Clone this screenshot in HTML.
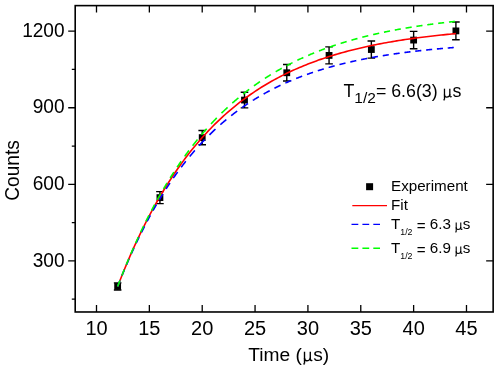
<!DOCTYPE html>
<html><head><meta charset="utf-8"><title>chart</title>
<style>html,body{margin:0;padding:0;background:#fff;}body{width:498px;height:365px;overflow:hidden;}svg{display:block;will-change:transform;}text{font-family:"Liberation Sans",sans-serif;fill:#000;}</style></head><body>
<svg width="498" height="365" viewBox="0 0 498 365">
<rect x="0" y="0" width="498" height="365" fill="#fff"/>
<rect x="75.20" y="5.62" width="417.95" height="306.36" fill="none" stroke="#000" stroke-width="1.6"/>
<path d="M96.50,311.98v-7 M96.50,5.62v7 M149.35,311.98v-7 M149.35,5.62v7 M202.21,311.98v-7 M202.21,5.62v7 M255.06,311.98v-7 M255.06,5.62v7 M307.92,311.98v-7 M307.92,5.62v7 M360.77,311.98v-7 M360.77,5.62v7 M413.63,311.98v-7 M413.63,5.62v7 M466.49,311.98v-7 M466.49,5.62v7 M75.20,260.92h-7 M493.15,260.92h-7 M75.20,184.33h-7 M493.15,184.33h-7 M75.20,107.74h-7 M493.15,107.74h-7 M75.20,31.15h-7 M493.15,31.15h-7 M75.20,299.22h-3.4 M75.20,222.63h-3.4 M75.20,146.03h-3.4 M75.20,69.44h-3.4" stroke="#000" stroke-width="1.3" fill="none"/>
<text transform="translate(64.6,266.52) scale(0.955,1)" font-size="20" text-anchor="end">300</text>
<text transform="translate(64.6,189.93) scale(0.955,1)" font-size="20" text-anchor="end">600</text>
<text transform="translate(64.6,113.34) scale(0.955,1)" font-size="20" text-anchor="end">900</text>
<text transform="translate(64.6,36.75) scale(0.955,1)" font-size="20" text-anchor="end">1200</text>
<text transform="translate(96.50,334.7) scale(1.0,1)" font-size="20" text-anchor="middle">10</text>
<text transform="translate(149.35,334.7) scale(1.0,1)" font-size="20" text-anchor="middle">15</text>
<text transform="translate(202.21,334.7) scale(1.0,1)" font-size="20" text-anchor="middle">20</text>
<text transform="translate(255.06,334.7) scale(1.0,1)" font-size="20" text-anchor="middle">25</text>
<text transform="translate(307.92,334.7) scale(1.0,1)" font-size="20" text-anchor="middle">30</text>
<text transform="translate(360.77,334.7) scale(1.0,1)" font-size="20" text-anchor="middle">35</text>
<text transform="translate(413.63,334.7) scale(1.0,1)" font-size="20" text-anchor="middle">40</text>
<text transform="translate(466.49,334.7) scale(1.0,1)" font-size="20" text-anchor="middle">45</text>
<text x="248.20" y="360.60" font-size="19.2">Time (</text>
<g transform="translate(302.59,360.60) scale(0.01920)" fill="none" stroke="#000" stroke-width="72" stroke-linejoin="round"><path d="M100,-462V150"/><path d="M100,-140C100,-30 150,8 215,8C300,8 400,-50 400,-150"/><path d="M400,-462V-70C400,-5 440,15 505,-25"/><ellipse cx="78" cy="165" rx="42" ry="46" fill="#000" stroke="none"/></g>
<text x="313.15" y="360.60" font-size="19.2">s)</text>
<text transform="translate(19.3,170.5) rotate(-90) scale(1,1.03)" font-size="19.1" text-anchor="middle">Counts</text>
<path d="M117.64,282.84V290.06M113.84,282.84h7.6M113.84,290.06h7.6 M159.93,191.63V203.58M156.13,191.63h7.6M156.13,203.58h7.6 M202.21,130.47V144.75M198.41,130.47h7.6M198.41,144.75h7.6 M244.49,92.30V107.87M240.69,92.30h7.6M240.69,107.87h7.6 M286.78,64.54V80.99M282.98,64.54h7.6M282.98,80.99h7.6 M329.06,46.92V63.89M325.26,46.92h7.6M325.26,63.89h7.6 M371.35,40.96V58.11M367.55,40.96h7.6M367.55,58.11h7.6 M413.63,31.37V48.80M409.83,31.37h7.6M409.83,48.80h7.6 M455.91,22.05V39.74M452.11,22.05h7.6M452.11,39.74h7.6" stroke="#000" stroke-width="1.4" fill="none"/>
<rect x="114.24" y="283.05" width="6.8" height="6.8" fill="#000"/>
<rect x="156.53" y="194.21" width="6.8" height="6.8" fill="#000"/>
<rect x="198.81" y="134.21" width="6.8" height="6.8" fill="#000"/>
<rect x="241.09" y="96.68" width="6.8" height="6.8" fill="#000"/>
<rect x="283.38" y="69.36" width="6.8" height="6.8" fill="#000"/>
<rect x="325.66" y="52.00" width="6.8" height="6.8" fill="#000"/>
<rect x="367.95" y="46.13" width="6.8" height="6.8" fill="#000"/>
<rect x="410.23" y="36.69" width="6.8" height="6.8" fill="#000"/>
<rect x="452.51" y="27.49" width="6.8" height="6.8" fill="#000"/>
<path d="M117.64,286.45 L119.76,281.01 L121.87,275.67 L123.98,270.45 L126.10,265.34 L128.21,260.34 L130.33,255.43 L132.44,250.63 L134.56,245.93 L136.67,241.33 L138.78,236.83 L140.90,232.41 L143.01,228.09 L145.13,223.86 L147.24,219.72 L149.35,215.66 L151.47,211.69 L153.58,207.80 L155.70,203.99 L157.81,200.26 L159.93,196.60 L162.04,193.03 L164.15,189.52 L166.27,186.09 L168.38,182.73 L170.50,179.45 L172.61,176.23 L174.73,173.07 L176.84,169.98 L178.95,166.96 L181.07,164.00 L183.18,161.10 L185.30,158.26 L187.41,155.48 L189.52,152.76 L191.64,150.09 L193.75,147.48 L195.87,144.93 L197.98,142.42 L200.10,139.97 L202.21,137.57 L204.32,135.22 L206.44,132.92 L208.55,130.67 L210.67,128.46 L212.78,126.30 L214.90,124.19 L217.01,122.11 L219.12,120.09 L221.24,118.10 L223.35,116.15 L225.47,114.25 L227.58,112.38 L229.69,110.56 L231.81,108.77 L233.92,107.02 L236.04,105.30 L238.15,103.62 L240.27,101.98 L242.38,100.37 L244.49,98.79 L246.61,97.25 L248.72,95.74 L250.84,94.26 L252.95,92.81 L255.06,91.39 L257.18,90.00 L259.29,88.64 L261.41,87.30 L263.52,86.00 L265.64,84.72 L267.75,83.47 L269.86,82.24 L271.98,81.04 L274.09,79.87 L276.21,78.72 L278.32,77.59 L280.44,76.49 L282.55,75.41 L284.66,74.35 L286.78,73.31 L288.89,72.30 L291.01,71.31 L293.12,70.33 L295.23,69.38 L297.35,68.45 L299.46,67.53 L301.58,66.64 L303.69,65.76 L305.81,64.91 L307.92,64.07 L310.03,63.25 L312.15,62.44 L314.26,61.65 L316.38,60.88 L318.49,60.12 L320.61,59.38 L322.72,58.66 L324.83,57.95 L326.95,57.25 L329.06,56.57 L331.18,55.91 L333.29,55.25 L335.40,54.62 L337.52,53.99 L339.63,53.38 L341.75,52.78 L343.86,52.19 L345.98,51.61 L348.09,51.05 L350.20,50.50 L352.32,49.96 L354.43,49.43 L356.55,48.91 L358.66,48.41 L360.77,47.91 L362.89,47.42 L365.00,46.95 L367.12,46.48 L369.23,46.02 L371.35,45.58 L373.46,45.14 L375.57,44.71 L377.69,44.29 L379.80,43.88 L381.92,43.48 L384.03,43.08 L386.15,42.70 L388.26,42.32 L390.37,41.95 L392.49,41.59 L394.60,41.23 L396.72,40.88 L398.83,40.54 L400.94,40.21 L403.06,39.88 L405.17,39.56 L407.29,39.25 L409.40,38.94 L411.52,38.64 L413.63,38.35 L415.74,38.06 L417.86,37.78 L419.97,37.51 L422.09,37.24 L424.20,36.97 L426.32,36.71 L428.43,36.46 L430.54,36.21 L432.66,35.97 L434.77,35.73 L436.89,35.50 L439.00,35.27 L441.11,35.04 L443.23,34.83 L445.34,34.61 L447.46,34.40 L449.57,34.20 L451.69,33.99 L453.80,33.80 L455.91,33.60" stroke="#ff0000" stroke-width="1.6" fill="none"/>
<path d="M117.64,286.45 L117.81,286.02 L117.98,285.58 L118.15,285.15 L118.32,284.72 L118.49,284.29 L118.66,283.86 L118.83,283.43 L119.00,283.00 L119.16,282.58 L119.33,282.15 L119.50,281.73 L119.67,281.30 L119.84,280.88 L120.01,280.45 M122.04,275.43 L122.21,275.01 L122.38,274.60 L122.55,274.19 L122.72,273.78 L122.89,273.37 L123.05,272.96 L123.22,272.55 L123.39,272.14 L123.56,271.73 L123.73,271.32 L123.90,270.91 L124.07,270.51 L124.24,270.10 L124.41,269.70 M126.52,264.70 L126.69,264.31 L126.86,263.91 L127.03,263.52 L127.20,263.13 L127.37,262.73 L127.54,262.34 L127.71,261.95 L127.87,261.56 L128.04,261.17 L128.21,260.78 L128.38,260.39 L128.55,260.01 L128.72,259.62 L128.89,259.23 L129.06,258.85 M131.26,253.90 L131.43,253.52 L131.60,253.15 L131.76,252.77 L131.93,252.40 L132.10,252.02 L132.27,251.65 L132.44,251.28 L132.61,250.91 L132.78,250.54 L132.95,250.17 L133.12,249.80 L133.29,249.43 L133.46,249.06 L133.63,248.69 L133.79,248.33 L133.96,247.96 M136.25,243.08 L136.42,242.72 L136.59,242.36 L136.75,242.01 L136.92,241.65 L137.09,241.30 L137.26,240.95 L137.43,240.59 L137.60,240.24 L137.77,239.89 L137.94,239.54 L138.11,239.19 L138.28,238.84 L138.45,238.49 L138.61,238.14 L138.78,237.79 L138.95,237.44 L139.12,237.09 M141.49,232.30 L141.74,231.79 L142.00,231.29 L142.25,230.78 L142.50,230.28 L142.76,229.78 L143.01,229.28 L143.27,228.78 L143.52,228.28 L143.77,227.78 L144.03,227.29 L144.28,226.79 L144.53,226.30 M147.07,221.45 L147.33,220.97 L147.58,220.49 L147.83,220.02 L148.09,219.54 L148.34,219.07 L148.59,218.60 L148.85,218.13 L149.10,217.66 L149.35,217.19 L149.61,216.72 L149.86,216.26 L150.12,215.79 L150.29,215.48 M152.99,210.61 L153.25,210.16 L153.50,209.71 L153.75,209.27 L154.01,208.82 L154.26,208.38 L154.51,207.93 L154.77,207.49 L155.02,207.05 L155.27,206.61 L155.53,206.17 L155.78,205.73 L156.04,205.29 L156.29,204.86 L156.46,204.57 M159.33,199.72 L159.59,199.30 L159.84,198.88 L160.10,198.46 L160.35,198.04 L160.60,197.63 L160.86,197.21 L161.11,196.80 L161.36,196.38 L161.62,195.97 L161.87,195.56 L162.12,195.15 L162.38,194.74 L162.63,194.33 L162.89,193.93 L162.97,193.79 M166.10,188.86 L166.35,188.47 L166.61,188.08 L166.86,187.69 L167.11,187.30 L167.37,186.91 L167.62,186.53 L167.88,186.14 L168.13,185.76 L168.38,185.37 L168.64,184.99 L168.89,184.61 L169.14,184.22 L169.40,183.84 L169.65,183.47 L169.91,183.09 L169.99,182.96 M173.29,178.14 L173.63,177.65 L173.96,177.17 L174.30,176.69 L174.64,176.21 L174.98,175.73 L175.32,175.25 L175.66,174.78 L175.99,174.31 L176.33,173.83 L176.67,173.36 L177.01,172.90 L177.35,172.43 L177.60,172.08 M181.15,167.29 L181.49,166.84 L181.83,166.40 L182.17,165.95 L182.51,165.51 L182.84,165.07 L183.18,164.63 L183.52,164.19 L183.86,163.76 L184.20,163.32 L184.54,162.89 L184.87,162.46 L185.21,162.03 L185.55,161.60 L185.80,161.28 M189.69,156.47 L190.12,155.96 L190.54,155.45 L190.96,154.94 L191.39,154.44 L191.81,153.94 L192.23,153.44 L192.65,152.94 L193.08,152.44 L193.50,151.95 L193.92,151.46 L194.35,150.97 L194.77,150.48 L194.85,150.39 M199.08,145.64 L199.50,145.17 L199.93,144.71 L200.35,144.25 L200.77,143.79 L201.20,143.34 L201.62,142.89 L202.04,142.43 L202.46,141.98 L202.89,141.54 L203.31,141.09 L203.73,140.65 L204.16,140.21 L204.58,139.77 L204.75,139.59 M209.48,134.81 L209.99,134.31 L210.50,133.81 L211.01,133.32 L211.51,132.83 L212.02,132.34 L212.53,131.85 L213.03,131.37 L213.54,130.89 L214.05,130.41 L214.56,129.93 L215.06,129.46 L215.49,129.07 M220.31,124.71 L220.81,124.27 L221.32,123.82 L221.83,123.38 L222.34,122.94 L222.84,122.51 L223.35,122.07 L223.86,121.64 L224.37,121.21 L224.87,120.79 L225.38,120.36 L225.89,119.94 L226.40,119.52 M231.13,115.70 L231.64,115.30 L232.15,114.90 L232.65,114.51 L233.16,114.12 L233.67,113.73 L234.18,113.34 L234.68,112.95 L235.19,112.57 L235.70,112.19 L236.21,111.81 L236.71,111.43 L237.22,111.05 M241.96,107.64 L242.46,107.28 L242.97,106.93 L243.48,106.58 L243.99,106.23 L244.49,105.88 L245.00,105.53 L245.51,105.19 L246.02,104.85 L246.52,104.50 L247.03,104.17 L247.54,103.83 L248.05,103.49 M252.78,100.44 L253.29,100.12 L253.80,99.81 L254.30,99.49 L254.81,99.18 L255.32,98.87 L255.83,98.56 L256.33,98.25 L256.84,97.95 L257.35,97.64 L257.86,97.34 L258.36,97.04 L258.87,96.74 M263.61,94.01 L264.11,93.73 L264.62,93.44 L265.13,93.16 L265.64,92.88 L266.14,92.61 L266.65,92.33 L267.16,92.05 L267.67,91.78 L268.17,91.51 L268.68,91.24 L269.19,90.97 L269.70,90.70 M274.43,88.27 L274.94,88.01 L275.45,87.76 L275.95,87.51 L276.46,87.26 L276.97,87.01 L277.48,86.76 L277.98,86.52 L278.49,86.27 L279.00,86.03 L279.51,85.79 L280.01,85.55 L280.52,85.31 M285.34,83.09 L285.85,82.87 L286.36,82.64 L286.86,82.42 L287.37,82.20 L287.88,81.97 L288.38,81.75 L288.89,81.53 L289.40,81.31 L289.91,81.10 L290.41,80.88 L290.92,80.67 L291.34,80.49 M296.17,78.51 L296.67,78.31 L297.18,78.11 L297.69,77.91 L298.19,77.71 L298.70,77.51 L299.21,77.31 L299.72,77.12 L300.22,76.92 L300.73,76.73 L301.24,76.53 L301.75,76.34 L302.17,76.18 M306.99,74.42 L307.50,74.24 L308.00,74.06 L308.51,73.88 L309.02,73.70 L309.53,73.52 L310.03,73.35 L310.54,73.17 L311.05,73.00 L311.56,72.82 L312.06,72.65 L312.57,72.48 L312.99,72.34 M317.81,70.76 L318.32,70.60 L318.83,70.44 L319.34,70.28 L319.84,70.12 L320.35,69.96 L320.86,69.80 L321.37,69.65 L321.87,69.49 L322.38,69.34 L322.89,69.18 L323.40,69.03 L323.82,68.90 M328.64,67.49 L329.15,67.35 L329.65,67.20 L330.16,67.06 L330.67,66.92 L331.18,66.78 L331.68,66.64 L332.19,66.50 L332.70,66.36 L333.21,66.22 L333.71,66.08 L334.22,65.94 L334.64,65.83 M339.46,64.57 L339.97,64.44 L340.48,64.31 L340.99,64.19 L341.49,64.06 L342.00,63.93 L342.51,63.81 L343.02,63.68 L343.52,63.56 L344.03,63.43 L344.54,63.31 L345.05,63.19 L345.47,63.09 M350.29,61.96 L350.80,61.85 L351.30,61.73 L351.81,61.62 L352.32,61.50 L352.83,61.39 L353.33,61.28 L353.84,61.17 L354.35,61.06 L354.86,60.95 L355.36,60.84 L355.87,60.73 L356.29,60.64 M361.11,59.63 L361.62,59.53 L362.13,59.43 L362.64,59.32 L363.14,59.22 L363.65,59.12 L364.16,59.02 L364.67,58.92 L365.17,58.82 L365.68,58.72 L366.19,58.63 L366.69,58.53 L367.12,58.45 M371.94,57.55 L372.45,57.46 L372.95,57.37 L373.46,57.27 L373.97,57.18 L374.48,57.09 L374.98,57.00 L375.49,56.91 L376.00,56.83 L376.50,56.74 L377.01,56.65 L377.52,56.56 L377.94,56.49 M382.76,55.69 L383.27,55.61 L383.78,55.52 L384.28,55.44 L384.79,55.36 L385.30,55.28 L385.81,55.20 L386.31,55.12 L386.82,55.04 L387.33,54.96 L387.84,54.89 L388.34,54.81 L388.77,54.74 M393.59,54.03 L394.09,53.95 L394.60,53.88 L395.11,53.81 L395.62,53.73 L396.12,53.66 L396.63,53.59 L397.14,53.52 L397.65,53.45 L398.15,53.38 L398.66,53.31 L399.17,53.24 L399.68,53.17 M404.41,52.54 L404.92,52.47 L405.43,52.41 L405.93,52.34 L406.44,52.28 L406.95,52.22 L407.46,52.15 L407.96,52.09 L408.47,52.02 L408.98,51.96 L409.49,51.90 L409.99,51.84 L410.50,51.78 M415.24,51.21 L415.74,51.15 L416.25,51.10 L416.76,51.04 L417.27,50.98 L417.77,50.92 L418.28,50.87 L418.79,50.81 L419.30,50.75 L419.80,50.70 L420.31,50.64 L420.82,50.59 L421.33,50.53 M426.06,50.03 L426.57,49.98 L427.08,49.92 L427.58,49.87 L428.09,49.82 L428.60,49.77 L429.11,49.72 L429.61,49.67 L430.12,49.62 L430.63,49.57 L431.14,49.52 L431.64,49.47 L432.15,49.42 M436.89,48.97 L437.39,48.92 L437.90,48.87 L438.41,48.83 L438.92,48.78 L439.42,48.74 L439.93,48.69 L440.44,48.65 L440.95,48.60 L441.45,48.56 L441.96,48.51 L442.47,48.47 L442.98,48.42 M447.71,48.02 L448.22,47.98 L448.73,47.94 L449.23,47.90 L449.74,47.86 L450.25,47.81 L450.76,47.77 L451.26,47.73 L451.77,47.69 L452.28,47.65 L452.78,47.61 L453.29,47.57 L453.80,47.53" stroke="#0000ff" stroke-width="1.6" fill="none"/>
<path d="M117.64,286.45 L117.81,286.01 L117.98,285.56 L118.15,285.12 L118.32,284.68 L118.49,284.24 L118.66,283.80 L118.83,283.36 L119.00,282.92 L119.16,282.48 L119.33,282.05 L119.50,281.61 L119.67,281.17 L119.84,280.74 L119.93,280.52 M121.87,275.57 L122.04,275.14 L122.21,274.72 L122.38,274.29 L122.55,273.87 L122.72,273.45 L122.89,273.02 L123.05,272.60 L123.22,272.18 L123.39,271.76 L123.56,271.34 L123.73,270.92 L123.90,270.50 L124.07,270.08 L124.24,269.67 M126.27,264.71 L126.44,264.30 L126.61,263.89 L126.78,263.49 L126.94,263.08 L127.11,262.67 L127.28,262.27 L127.45,261.86 L127.62,261.46 L127.79,261.05 L127.96,260.65 L128.13,260.25 L128.30,259.85 L128.47,259.45 L128.64,259.05 L128.72,258.85 M130.83,253.90 L131.00,253.51 L131.17,253.12 L131.34,252.73 L131.51,252.34 L131.68,251.95 L131.85,251.56 L132.02,251.18 L132.19,250.79 L132.36,250.40 L132.53,250.02 L132.70,249.63 L132.86,249.25 L133.03,248.86 L133.20,248.48 L133.37,248.10 L133.46,247.91 M135.65,242.99 L135.82,242.62 L135.99,242.24 L136.16,241.87 L136.33,241.50 L136.50,241.13 L136.67,240.76 L136.84,240.39 L137.01,240.02 L137.18,239.65 L137.35,239.28 L137.52,238.91 L137.68,238.54 L137.85,238.18 L138.02,237.81 L138.19,237.45 L138.36,237.08 M140.64,232.21 L140.81,231.85 L140.98,231.50 L141.15,231.14 L141.32,230.79 L141.49,230.43 L141.66,230.08 L141.83,229.73 L142.00,229.37 L142.17,229.02 L142.34,228.67 L142.50,228.32 L142.67,227.97 L142.84,227.62 L143.01,227.27 L143.18,226.92 L143.35,226.57 L143.52,226.23 M145.89,221.42 L146.14,220.91 L146.40,220.40 L146.65,219.90 L146.90,219.39 L147.16,218.89 L147.41,218.39 L147.66,217.89 L147.92,217.39 L148.17,216.89 L148.42,216.39 L148.68,215.89 L148.93,215.40 M151.47,210.51 L151.72,210.03 L151.98,209.55 L152.23,209.07 L152.48,208.59 L152.74,208.11 L152.99,207.63 L153.25,207.16 L153.50,206.68 L153.75,206.21 L154.01,205.74 L154.26,205.27 L154.51,204.80 L154.60,204.64 M157.30,199.71 L157.56,199.25 L157.81,198.79 L158.07,198.34 L158.32,197.89 L158.57,197.44 L158.83,196.98 L159.08,196.53 L159.33,196.09 L159.59,195.64 L159.84,195.19 L160.10,194.75 L160.35,194.30 L160.60,193.86 L160.69,193.71 M163.48,188.91 L163.73,188.48 L163.99,188.05 L164.24,187.62 L164.49,187.19 L164.75,186.77 L165.00,186.34 L165.25,185.92 L165.51,185.50 L165.76,185.07 L166.01,184.65 L166.27,184.23 L166.52,183.81 L166.78,183.40 L167.03,182.98 M170.07,178.05 L170.33,177.65 L170.58,177.24 L170.84,176.84 L171.09,176.44 L171.34,176.04 L171.60,175.64 L171.85,175.24 L172.10,174.85 L172.36,174.45 L172.61,174.05 L172.86,173.66 L173.12,173.27 L173.37,172.87 L173.63,172.48 L173.88,172.09 M177.09,167.22 L177.43,166.72 L177.77,166.22 L178.11,165.71 L178.45,165.22 L178.78,164.72 L179.12,164.22 L179.46,163.73 L179.80,163.24 L180.14,162.74 L180.48,162.25 L180.81,161.77 L181.15,161.28 M184.62,156.38 L184.96,155.91 L185.30,155.45 L185.63,154.98 L185.97,154.52 L186.31,154.05 L186.65,153.59 L186.99,153.13 L187.33,152.67 L187.66,152.22 L188.00,151.76 L188.34,151.31 L188.68,150.85 L189.02,150.40 M192.65,145.64 L192.99,145.21 L193.33,144.77 L193.67,144.34 L194.01,143.91 L194.35,143.48 L194.68,143.05 L195.02,142.63 L195.36,142.20 L195.70,141.78 L196.04,141.36 L196.37,140.93 L196.71,140.52 L197.05,140.10 L197.39,139.68 L197.47,139.58 M201.45,134.78 L201.87,134.28 L202.29,133.78 L202.72,133.29 L203.14,132.80 L203.56,132.30 L203.99,131.81 L204.41,131.33 L204.83,130.84 L205.25,130.36 L205.68,129.88 L206.10,129.40 L206.52,128.92 L206.69,128.73 M211.01,123.97 L211.43,123.51 L211.85,123.06 L212.27,122.60 L212.70,122.15 L213.12,121.70 L213.54,121.26 L213.96,120.81 L214.39,120.37 L214.81,119.93 L215.23,119.49 L215.66,119.05 L216.08,118.61 L216.50,118.18 L216.76,117.92 M221.49,113.18 L222.00,112.68 L222.51,112.19 L223.01,111.70 L223.52,111.21 L224.03,110.73 L224.54,110.24 L225.04,109.76 L225.55,109.28 L226.06,108.81 L226.57,108.33 L227.07,107.86 L227.58,107.39 M232.32,103.11 L232.82,102.67 L233.33,102.22 L233.84,101.78 L234.35,101.34 L234.85,100.90 L235.36,100.46 L235.87,100.03 L236.38,99.60 L236.88,99.17 L237.39,98.74 L237.90,98.31 L238.41,97.89 M243.14,94.03 L243.65,93.63 L244.16,93.23 L244.66,92.83 L245.17,92.43 L245.68,92.04 L246.19,91.64 L246.69,91.25 L247.20,90.86 L247.71,90.47 L248.21,90.09 L248.72,89.70 L249.23,89.32 M253.97,85.84 L254.47,85.48 L254.98,85.11 L255.49,84.75 L256.00,84.39 L256.50,84.04 L257.01,83.68 L257.52,83.33 L258.02,82.98 L258.53,82.63 L259.04,82.28 L259.55,81.93 L260.05,81.59 M264.87,78.39 L265.38,78.06 L265.89,77.74 L266.40,77.41 L266.90,77.09 L267.41,76.77 L267.92,76.45 L268.43,76.13 L268.93,75.81 L269.44,75.50 L269.95,75.18 L270.46,74.87 L270.88,74.61 M275.70,71.73 L276.21,71.43 L276.71,71.14 L277.22,70.84 L277.73,70.55 L278.24,70.26 L278.74,69.97 L279.25,69.69 L279.76,69.40 L280.27,69.11 L280.77,68.83 L281.28,68.55 L281.70,68.32 M286.52,65.71 L287.03,65.45 L287.54,65.18 L288.05,64.92 L288.55,64.65 L289.06,64.39 L289.57,64.13 L290.08,63.87 L290.58,63.61 L291.09,63.36 L291.60,63.10 L292.11,62.85 L292.53,62.64 M297.35,60.29 L297.86,60.05 L298.36,59.81 L298.87,59.57 L299.38,59.33 L299.89,59.10 L300.39,58.86 L300.90,58.63 L301.41,58.39 L301.92,58.16 L302.42,57.93 L302.93,57.70 L303.35,57.51 M308.17,55.39 L308.68,55.18 L309.19,54.96 L309.70,54.75 L310.20,54.53 L310.71,54.32 L311.22,54.11 L311.73,53.89 L312.23,53.68 L312.74,53.48 L313.25,53.27 L313.76,53.06 L314.18,52.89 M319.00,50.98 L319.51,50.78 L320.01,50.59 L320.52,50.39 L321.03,50.20 L321.54,50.01 L322.04,49.82 L322.55,49.62 L323.06,49.44 L323.57,49.25 L324.07,49.06 L324.58,48.87 L325.00,48.72 M329.82,46.99 L330.33,46.82 L330.84,46.64 L331.35,46.47 L331.85,46.29 L332.36,46.12 L332.87,45.94 L333.37,45.77 L333.88,45.60 L334.39,45.43 L334.90,45.26 L335.40,45.09 L335.83,44.95 M340.65,43.40 L341.16,43.24 L341.66,43.08 L342.17,42.92 L342.68,42.76 L343.18,42.61 L343.69,42.45 L344.20,42.30 L344.71,42.14 L345.21,41.99 L345.72,41.84 L346.23,41.68 L346.65,41.56 M351.47,40.15 L351.98,40.01 L352.49,39.87 L352.99,39.72 L353.50,39.58 L354.01,39.44 L354.52,39.30 L355.02,39.16 L355.53,39.02 L356.04,38.88 L356.55,38.75 L357.05,38.61 L357.48,38.49 M362.30,37.23 L362.80,37.10 L363.31,36.97 L363.82,36.84 L364.33,36.71 L364.83,36.58 L365.34,36.46 L365.85,36.33 L366.36,36.21 L366.86,36.08 L367.37,35.96 L367.88,35.83 L368.30,35.73 M373.12,34.59 L373.63,34.47 L374.14,34.35 L374.64,34.24 L375.15,34.12 L375.66,34.01 L376.17,33.89 L376.67,33.78 L377.18,33.66 L377.69,33.55 L378.20,33.44 L378.70,33.33 L379.21,33.22 M383.95,32.20 L384.45,32.10 L384.96,31.99 L385.47,31.89 L385.98,31.78 L386.48,31.68 L386.99,31.58 L387.50,31.47 L388.01,31.37 L388.51,31.27 L389.02,31.17 L389.53,31.07 L390.04,30.97 M394.77,30.06 L395.28,29.96 L395.79,29.86 L396.29,29.77 L396.80,29.68 L397.31,29.58 L397.82,29.49 L398.32,29.40 L398.83,29.30 L399.34,29.21 L399.85,29.12 L400.35,29.03 L400.86,28.94 M405.60,28.12 L406.10,28.03 L406.61,27.94 L407.12,27.86 L407.63,27.77 L408.13,27.69 L408.64,27.61 L409.15,27.52 L409.66,27.44 L410.16,27.36 L410.67,27.27 L411.18,27.19 L411.68,27.11 M416.42,26.37 L416.93,26.29 L417.44,26.21 L417.94,26.13 L418.45,26.06 L418.96,25.98 L419.47,25.91 L419.97,25.83 L420.48,25.75 L420.99,25.68 L421.49,25.61 L422.00,25.53 L422.51,25.46 M427.25,24.79 L427.75,24.72 L428.26,24.65 L428.77,24.58 L429.28,24.51 L429.78,24.44 L430.29,24.37 L430.80,24.30 L431.30,24.24 L431.81,24.17 L432.32,24.10 L432.83,24.03 L433.33,23.97 M438.15,23.35 L438.66,23.29 L439.17,23.23 L439.68,23.16 L440.18,23.10 L440.69,23.04 L441.20,22.98 L441.71,22.92 L442.21,22.86 L442.72,22.79 L443.23,22.73 L443.74,22.67 L444.16,22.62 M448.98,22.07 L449.49,22.01 L449.99,21.95 L450.50,21.90 L451.01,21.84 L451.52,21.79 L452.02,21.73 L452.53,21.67 L453.04,21.62 L453.55,21.56 L454.05,21.51 L454.56,21.46 L454.98,21.41" stroke="#00ff00" stroke-width="1.6" fill="none"/>
<text x="343.50" y="96.90" font-size="17.8">T</text>
<text x="354.37" y="102.80" font-size="15.5">1/2</text>
<text x="375.92" y="96.90" font-size="17.8">= 6.6(3)</text>
<g transform="translate(442.70,96.90) scale(0.01780)" fill="none" stroke="#000" stroke-width="72" stroke-linejoin="round"><path d="M100,-462V150"/><path d="M100,-140C100,-30 150,8 215,8C300,8 400,-50 400,-150"/><path d="M400,-462V-70C400,-5 440,15 505,-25"/><ellipse cx="78" cy="165" rx="42" ry="46" fill="#000" stroke="none"/></g>
<text x="452.49" y="96.90" font-size="17.8">s</text>
<rect x="366.1" y="183.2" width="7" height="7" fill="#000"/>
<path d="M352.3,205.6H387" stroke="#ff0000" stroke-width="1.4"/>
<path d="M351.5,224.4H380" stroke="#0000ff" stroke-width="1.4" stroke-dasharray="6.8 4.1"/>
<path d="M351.5,248.2H380" stroke="#00ff00" stroke-width="1.4" stroke-dasharray="6.8 4.1"/>
<text x="391" y="191.1" font-size="15.2">Experiment</text>
<text x="391" y="210.2" font-size="15.2">Fit</text>
<text x="391.00" y="229.40" font-size="15.2">T</text>
<text x="400.28" y="235.10" font-size="8.8">1/2</text>
<text x="416.74" y="230.50" font-size="15.2">=</text>
<text x="429.84" y="229.40" font-size="15.2">6.3</text>
<g transform="translate(454.69,229.40) scale(0.01520)" fill="none" stroke="#000" stroke-width="72" stroke-linejoin="round"><path d="M100,-462V150"/><path d="M100,-140C100,-30 150,8 215,8C300,8 400,-50 400,-150"/><path d="M400,-462V-70C400,-5 440,15 505,-25"/><ellipse cx="78" cy="165" rx="42" ry="46" fill="#000" stroke="none"/></g>
<text x="462.85" y="229.40" font-size="15.2">s</text>
<text x="391.00" y="253.40" font-size="15.2">T</text>
<text x="400.28" y="259.10" font-size="8.8">1/2</text>
<text x="416.74" y="254.50" font-size="15.2">=</text>
<text x="429.84" y="253.40" font-size="15.2">6.9</text>
<g transform="translate(454.69,253.40) scale(0.01520)" fill="none" stroke="#000" stroke-width="72" stroke-linejoin="round"><path d="M100,-462V150"/><path d="M100,-140C100,-30 150,8 215,8C300,8 400,-50 400,-150"/><path d="M400,-462V-70C400,-5 440,15 505,-25"/><ellipse cx="78" cy="165" rx="42" ry="46" fill="#000" stroke="none"/></g>
<text x="462.85" y="253.40" font-size="15.2">s</text>
</svg></body></html>
